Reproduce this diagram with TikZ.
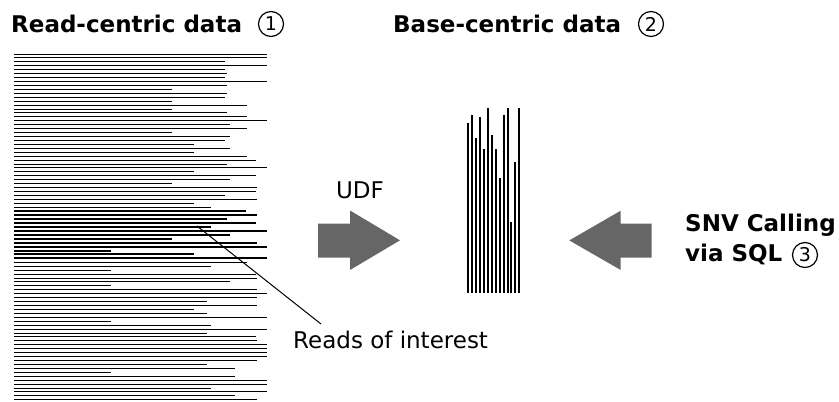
\documentclass[tikz,border=0pt]{standalone}
\usepackage{fontspec}
\setmainfont{DejaVu Sans}
\definecolor{arrowgray}{RGB}{102,102,102}
\tikzset{
  readline/.style={line width=1pt},
  basebar/.style={line width=2pt},
  leader/.style={line width=1pt},
  blockarrow/.style={fill=arrowgray, draw=none},
  heading/.style={font=\bfseries\fontsize{23}{28}\selectfont, anchor=base west, inner sep=0pt},
  plainlabel/.style={font=\fontsize{23}{28}\selectfont, inner sep=0pt},
  ringnum/.style={circle, draw, line width=1.2pt, minimum size=25pt, inner sep=0pt,
                  font=\fontsize{19}{21}\selectfont},
}
\begin{document}
\begin{tikzpicture}[x=1pt, y=-1pt]
  \useasboundingbox (0,0) rectangle (839,402);

  % read-centric layout: one horizontal line per read, reads of interest drawn thicker
  \foreach \len [count=\i] in {267,267,225,267,225,227,225,267,227,172,
                               227,225,172,247,172,227,247,267,230,247,
                               172,230,225,194,230,194,247,256,227,267,
                               194,256,230,172,257,256,225,257,194,211,
                               246,257,227,256,211,267,230,172,257,267,111,194,267,
                               247,211,111,256,257,230,111,
                               257,267,257,207,257,194,207,267,111,211,
                               267,207,256,257,267,267,267,267,257,207,
                               235,111,235,267,267,211,267,235,257} {
    \pgfmathsetmacro\yy{54+(\i-1)*3.93}
    \pgfmathsetmacro\lw{(\i>40 && \i<54) ? 2 : 1}
    \draw[readline, line width=\lw pt] (13.5,\yy) -- (\len,\yy);
  }

  % base-centric layout: one vertical bar per position
  \foreach \top [count=\k from 0] in {123.3,115,137.7,116.7,149.3,108.3,135,
                                     149.3,178.3,115,108.3,222.3,161.7,108.3} {
    \pgfmathsetmacro\xx{468.3+\k*3.92}
    \draw[basebar] (\xx,293) -- (\xx,\top);
  }

  % headings with their step numbers
  \node[heading] (readTitle) at (11,32.3) {Read-centric data};
  \node[ringnum] (stepOne) at (271,24) {1};
  \node[heading] (baseTitle) at (393,32.3) {Base-centric data};
  \node[ringnum] (stepTwo) at (651,24) {2};

  % UDF conversion arrow
  \node[plainlabel, anchor=base] (udf) at (360,198) {UDF};
  \fill[blockarrow] (318,223.5) -- (350,223.5) -- (350,210.5) -- (400,240.3)
        -- (350,270) -- (350,257.5) -- (318,257.5) -- cycle;

  % SQL arrow
  \fill[blockarrow] (651.7,223.5) -- (620.7,223.5) -- (620.7,210.7) -- (569.3,240.4)
        -- (620.7,270) -- (620.7,257.5) -- (651.7,257.5) -- cycle;
  \node[heading] (snvA) at (685,231.7) {SNV Calling};
  \node[heading] (snvB) at (685,261.7) {via SQL};
  \node[ringnum] (stepThree) at (805,255) {3};

  % reads of interest callout
  \node[plainlabel, anchor=base west] (roiLabel) at (293,348) {Reads of interest};
  \coordinate (roiStart) at (197,226);
  \coordinate (roiEnd) at (321,324);
  \draw[leader] (roiStart) -- (roiEnd);
\end{tikzpicture}
\end{document}
